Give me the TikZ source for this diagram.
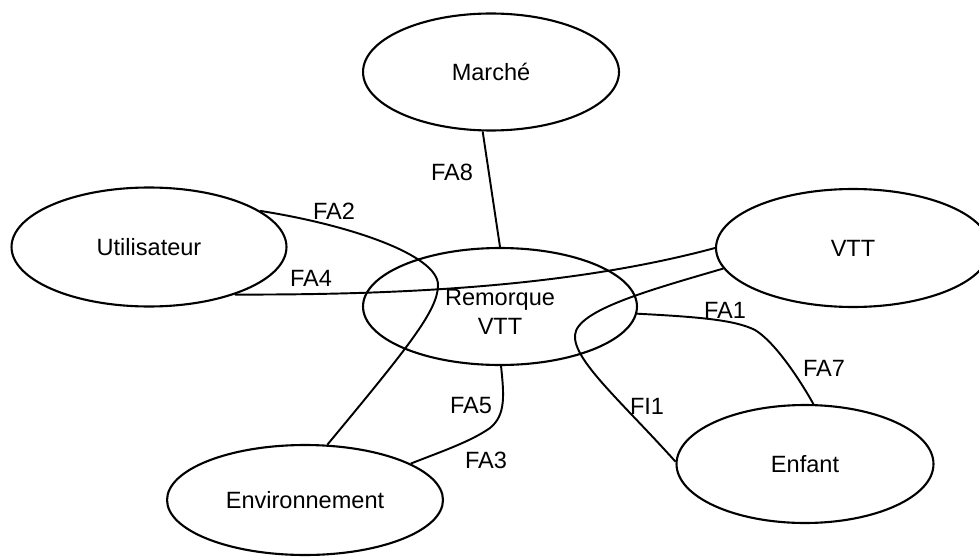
\documentclass[tikz,border=0pt]{standalone}
\usepackage{fontspec}
\setmainfont{Liberation Sans}
\usetikzlibrary{shapes.geometric}
\definecolor{DiagInk}{HTML}{000000}

\begin{document}
\begin{tikzpicture}[x=0.02cm,y=-0.02cm,
  bulle/.style={draw=DiagInk,ellipse,line width=1.2pt,align=center,
    font=\fontsize{13.4}{16.4}\selectfont},
  lien/.style={draw=DiagInk,line width=1.1pt},
  etiq/.style={inner sep=0pt,font=\fontsize{13.4}{16.4}\selectfont}]
\useasboundingbox (0,0) rectangle (979,557);
\clip (0,0) rectangle (979,557);
\fill[white] (0,0) rectangle (979,557);
\node[bulle,minimum width=5.12cm,minimum height=2.34cm] (marche) at (491,72) {Marché};
\node[bulle,minimum width=5.50cm,minimum height=2.38cm] (util) at (149,247) {Utilisateur};
\node[bulle,minimum width=5.48cm,minimum height=2.36cm] (vtt) at (853,248) {VTT};
\node[bulle,minimum width=5.48cm,minimum height=2.34cm] (remorque) at (500,306.5) {\rule{0pt}{0.55cm}Remorque\\VTT};
\node[bulle,minimum width=5.14cm,minimum height=2.36cm] (enfant) at (805,464) {Enfant};
\node[bulle,minimum width=5.52cm,minimum height=2.20cm] (env) at (305,500) {Environnement};
\draw[lien] (marche.-98) -- (remorque.north);
\draw[lien] (util.18) .. controls (350,225) and (438,255) .. (438,285)
  .. controls (438,310) and (410,345) .. (env.68);
\draw[lien] (util.-29) .. controls (400,295) and (570,287) .. (vtt.west);
\draw[lien] (vtt.189) .. controls (650,290) and (577,310) .. (575,335)
  .. controls (573,360) and (620,400) .. (enfant.179);
\draw[lien] (remorque.-3) .. controls (700,317) and (735,320) .. (755,330)
  .. controls (775,342) and (800,380) .. (enfant.82);
\draw[lien] (remorque.-89) .. controls (504,395) and (506,415) .. (490,428)
  .. controls (470,442) and (440,452) .. (env.19);
\node[etiq] (fa8) at (452,172) {FA8};
\node[etiq] (fa2) at (334,211) {FA2};
\node[etiq] (fa4) at (311,278) {FA4};
\node[etiq] (fa1) at (725,310) {FA1};
\node[etiq] (fa7) at (824,368) {FA7};
\node[etiq] (fi1) at (647,406) {FI1};
\node[etiq] (fa5) at (471,406) {FA5};
\node[etiq] (fa3) at (486,460) {FA3};
\end{tikzpicture}
\end{document}
